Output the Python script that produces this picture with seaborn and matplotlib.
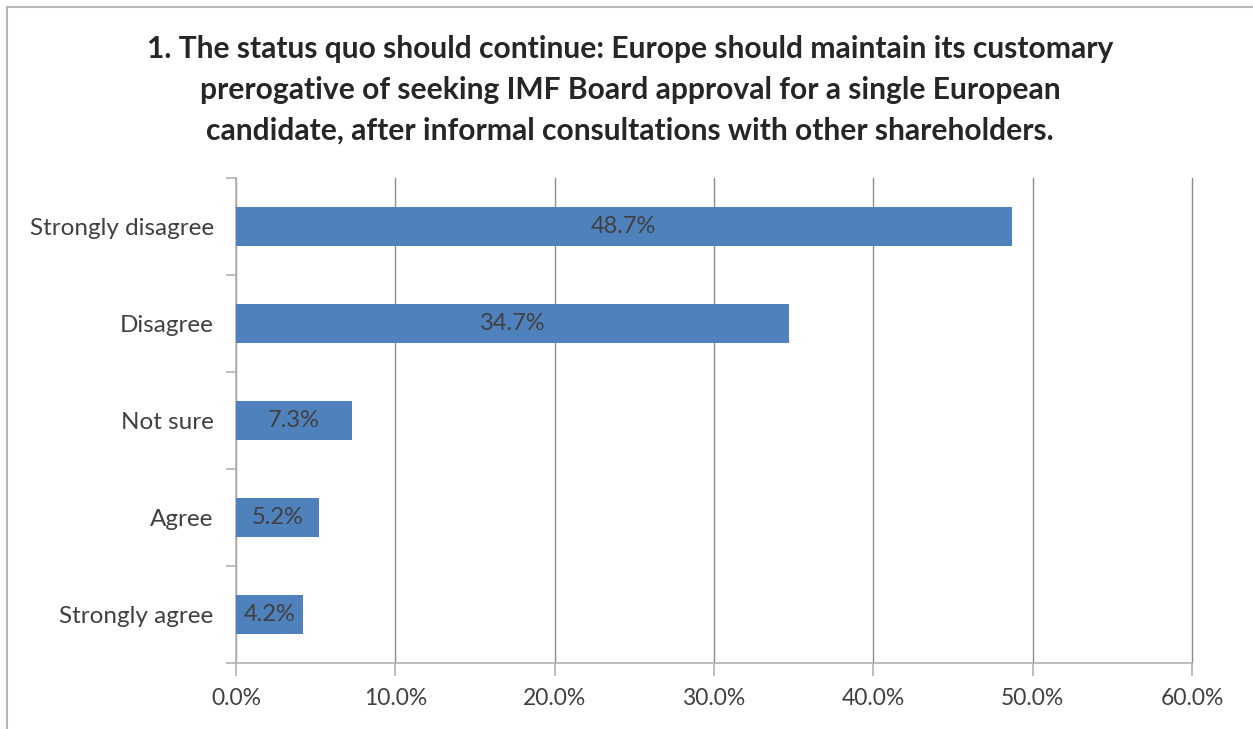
import pandas as pd
import seaborn as sns
import matplotlib.pyplot as plt
from matplotlib.lines import Line2D
from matplotlib.ticker import FuncFormatter

# Survey answers and shares (percent)
categories = ["Strongly disagree", "Disagree", "Not sure", "Agree", "Strongly agree"]
shares = [48.7, 34.7, 7.3, 5.2, 4.2]
x_ticks = [0, 10, 20, 30, 40, 50, 60]

TITLE = ("1. The status quo should continue: Europe should maintain its customary\n"
         "prerogative of seeking IMF Board approval for a single European\n"
         "candidate, after informal consultations with other shareholders.")

BAR_COLOR = "#4F81BD"
TEXT_COLOR = "#404040"

sns.set_theme(style="white")
plt.rcParams["font.family"] = ["Lato", "DejaVu Sans"]

df = pd.DataFrame({"answer": categories, "share": shares})

fig = plt.figure(figsize=(12.53, 7.29), dpi=100)
ax = fig.add_axes([0.1883, 0.0905, 0.7630, 0.6653])

sns.barplot(data=df, x="share", y="answer", orient="h", color=BAR_COLOR,
            saturation=1, width=0.4, linewidth=0, ax=ax, zorder=3)

ax.set_xlim(0, 60)
ax.set_ylim(4.5, -0.5)
ax.set_xticks(x_ticks)
ax.xaxis.set_major_formatter(FuncFormatter(lambda v, p: f"{v:.1f}%"))
ax.grid(axis="x", color="#8c8c8c", linewidth=1, zorder=0)
for gl in ax.get_xgridlines():
    gl.set_clip_on(False)
ax.set_xlabel("")
ax.set_ylabel("")

for side in ["top", "right"]:
    ax.spines[side].set_visible(False)
for side in ["left", "bottom"]:
    ax.spines[side].set_color("#b3b3b3")
    ax.spines[side].set_linewidth(1.2)

# category boundary ticks on the y axis
ax.set_yticks([i - 0.5 for i in range(len(categories) + 1)], minor=True)
ax.tick_params(axis="y", which="minor", length=7, color="#b3b3b3", width=1.2, left=True)
ax.tick_params(axis="y", which="major", length=0, labelsize=17.5, labelcolor=TEXT_COLOR, pad=16)
ax.tick_params(axis="x", which="major", length=9, color="#b3b3b3", width=1.2,
               bottom=True, labelsize=16.5, labelcolor=TEXT_COLOR, pad=9)

for i, v in enumerate(shares):
    ax.text(v / 2, i, f"{v:.1f}%", ha="center", va="center",
            fontsize=17, color=TEXT_COLOR, zorder=4)

fig.text(0.503, 0.952, TITLE, ha="center", va="top", fontsize=21.6,
         fontweight="bold", color="#262626", linespacing=1.55)

# outer chart frame (top and left edges visible)
fig.add_artist(Line2D([7 / 1253, 1], [1 - 7 / 729] * 2, transform=fig.transFigure,
                      color="#b8b8b8", linewidth=1.5))
fig.add_artist(Line2D([7 / 1253] * 2, [0, 1 - 7 / 729], transform=fig.transFigure,
                      color="#b8b8b8", linewidth=1.5))

fig.savefig("out.png", dpi=100)
